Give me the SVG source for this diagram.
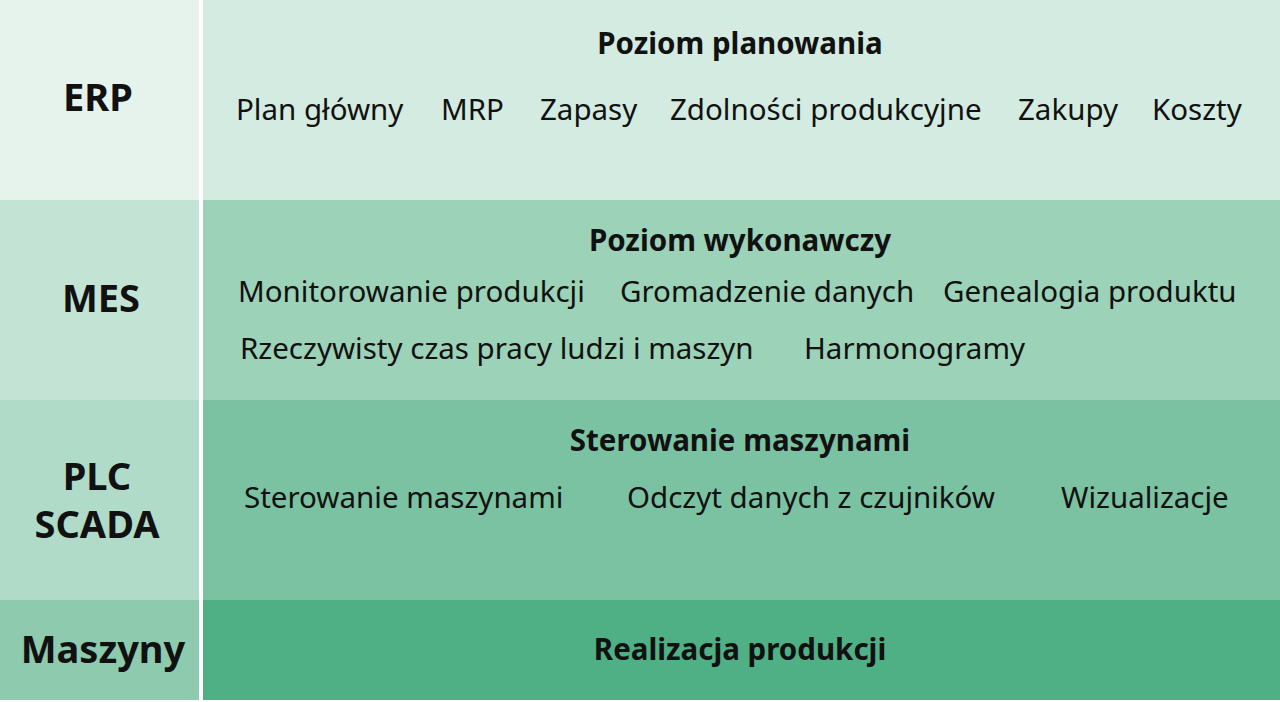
<svg xmlns="http://www.w3.org/2000/svg" width="1280" height="702" viewBox="0 0 1280 702">
<style>
.lbl{font-family:"Noto Sans","Open Sans",sans-serif;font-weight:bold;font-size:38px;fill:#111;text-anchor:middle}
.ttl{font-family:"Noto Sans","Open Sans",sans-serif;font-weight:bold;font-size:29.5px;fill:#111;text-anchor:middle}
.itm{font-family:"Noto Sans","Open Sans",sans-serif;font-size:29.5px;fill:#111}
</style>
<rect width="1280" height="702" fill="#ffffff"/>
<g id="erp">
<rect x="0" y="0" width="199" height="200" fill="#e6f3ec"/>
<rect x="203" y="0" width="1077" height="200" fill="#d3ebe0"/>
<text class="lbl" x="98" y="111">ERP</text>
<text class="ttl" x="740" y="54">Poziom planowania</text>
<text class="itm" x="236" y="120">Plan główny</text>
<text class="itm" x="441" y="120">MRP</text>
<text class="itm" x="540" y="120">Zapasy</text>
<text class="itm" x="670" y="120">Zdolności produkcyjne</text>
<text class="itm" x="1018" y="120">Zakupy</text>
<text class="itm" x="1152" y="120">Koszty</text>
</g>
<g id="mes">
<rect x="0" y="200" width="199" height="200" fill="#c3e3d4"/>
<rect x="203" y="200" width="1077" height="200" fill="#9bd2b8"/>
<text class="lbl" x="101" y="312">MES</text>
<text class="ttl" x="740" y="251">Poziom wykonawczy</text>
<text class="itm" x="238" y="302">Monitorowanie produkcji</text>
<text class="itm" x="620" y="302">Gromadzenie danych</text>
<text class="itm" x="943" y="302">Genealogia produktu</text>
<text class="itm" x="240" y="359">Rzeczywisty czas pracy ludzi i maszyn</text>
<text class="itm" x="804" y="359">Harmonogramy</text>
</g>
<g id="plc">
<rect x="0" y="400" width="199" height="200" fill="#b0dbc8"/>
<rect x="203" y="400" width="1077" height="200" fill="#7bc2a2"/>
<text class="lbl" x="97" y="490">PLC</text>
<text class="lbl" x="97" y="538">SCADA</text>
<text class="ttl" x="740" y="451">Sterowanie maszynami</text>
<text class="itm" x="244" y="508">Sterowanie maszynami</text>
<text class="itm" x="627" y="508">Odczyt danych z czujników</text>
<text class="itm" x="1061" y="508">Wizualizacje</text>
</g>
<g id="maszyny">
<rect x="0" y="600" width="199" height="100" fill="#8dcaae"/>
<rect x="203" y="600" width="1077" height="100" fill="#4faf85"/>
<text class="lbl" x="103" y="663">Maszyny</text>
<text class="ttl" x="740" y="660">Realizacja produkcji</text>
</g>
<g id="connectors"/>
</svg>
